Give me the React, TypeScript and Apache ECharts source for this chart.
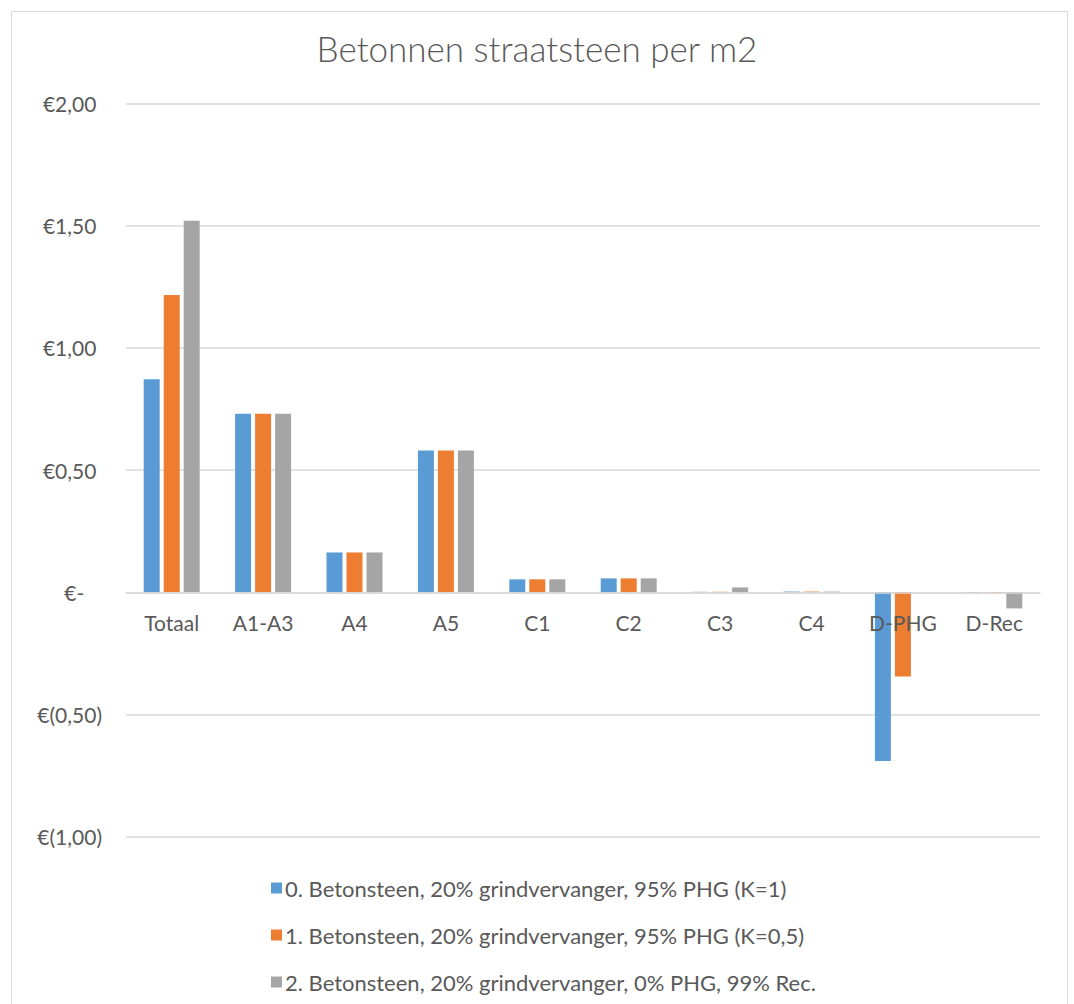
import React, { useEffect, useRef } from "react";
import * as echarts from "echarts";

const categories = ["Totaal", "A1-A3", "A4", "A5", "C1", "C2", "C3", "C4", "D-PHG", "D-Rec"];

const seriesNames = [
  "0. Betonsteen, 20% grindvervanger, 95% PHG (K=1)",
  "1. Betonsteen, 20% grindvervanger, 95% PHG (K=0,5)",
  "2. Betonsteen, 20% grindvervanger, 0% PHG, 99% Rec.",
];

const scenario0 = [0.872, 0.731, 0.163, 0.58, 0.053, 0.057, 0.002, 0.003, -0.69, -0.002];
const scenario1 = [1.216, 0.731, 0.163, 0.58, 0.053, 0.057, 0.002, 0.003, -0.345, -0.002];
const scenario2 = [1.52, 0.731, 0.163, 0.58, 0.053, 0.057, 0.02, 0.003, 0, -0.066];

const yMin = -1;
const yMax = 2;

const colors = ["#5B9BD5", "#ED7D31", "#A5A5A5"];
const FONT = "Lato";
const TEXT = "#595959";

const GRID_TOP = 103.5;
const GRID_BOTTOM = 167.3;
const CHART_H = 1004;

function euro(v: number): string {
  const s = Math.abs(v).toFixed(2).replace(".", ",");
  if (Math.abs(v) < 1e-9) return "€-{h|0)}";
  if (v < 0) return "€(" + s + ")";
  return "€" + s + "{h|)}";
}

export default function App() {
  const ref = useRef<HTMLDivElement>(null);

  useEffect(() => {
    if (!ref.current) return;
    const chart = echarts.init(ref.current, undefined, { renderer: "svg" });
    const data = [scenario0, scenario1, scenario2];
    // place the category axis on the zero line of the value axis
    const plotH = CHART_H - GRID_TOP - GRID_BOTTOM;
    const zeroOffset = -plotH * (0 - yMin) / (yMax - yMin);
    chart.setOption({
      animation: false,
      backgroundColor: "#ffffff",
      color: colors,
      textStyle: { fontFamily: FONT },
      title: {
        text: "Betonnen straatsteen per m2",
        left: "center",
        top: 25,
        textStyle: { fontFamily: FONT, fontSize: 35, fontWeight: 300, color: TEXT },
      },
      graphic: [
        {
          type: "rect",
          shape: { x: 11.5, y: 11.5, width: 1056, height: 1010 },
          style: { fill: "none", stroke: "#d9d9d9", lineWidth: 1 },
          silent: true,
        },
      ],
      grid: { left: 126, right: 34, top: GRID_TOP, bottom: GRID_BOTTOM, containLabel: false },
      legend: {
        orient: "vertical",
        left: 266,
        top: 872,
        itemWidth: 11,
        itemHeight: 11,
        itemGap: 25,
        icon: "rect",
        data: seriesNames,
        textStyle: { fontFamily: FONT, fontSize: 22, color: TEXT, padding: [0, 0, 0, -2] },
      },
      xAxis: {
        type: "category",
        data: categories,
        z: 10,
        offset: zeroOffset,
        axisLine: { show: true, onZero: false, lineStyle: { color: "#d9d9d9", width: 1.5 } },
        axisTick: { show: false },
        axisLabel: { fontFamily: FONT, fontSize: 21, color: TEXT, margin: 20, interval: 0 },
      },
      yAxis: {
        type: "value",
        min: yMin,
        max: yMax,
        interval: 0.5,
        axisLine: { show: false },
        axisTick: { show: false },
        splitLine: { lineStyle: { color: "#d9d9d9", width: 1.5 } },
        axisLabel: {
          fontFamily: FONT,
          fontSize: 21,
          color: TEXT,
          margin: 24,
          align: "right",
          formatter: (v: number) => euro(v),
          rich: { h: { fontFamily: FONT, fontSize: 21, color: "rgba(0,0,0,0)" } },
        },
      },
      series: data.map((vals, i) => ({
        name: seriesNames[i],
        type: "bar",
        data: vals,
        barWidth: 16,
        barGap: "25%",
        itemStyle: { color: colors[i] },
      })),
    });
    return () => chart.dispose();
  }, []);

  return (
    <div
      ref={ref}
      style={{ position: "absolute", left: 0, top: 0, width: 1074, height: CHART_H }}
    />
  );
}
